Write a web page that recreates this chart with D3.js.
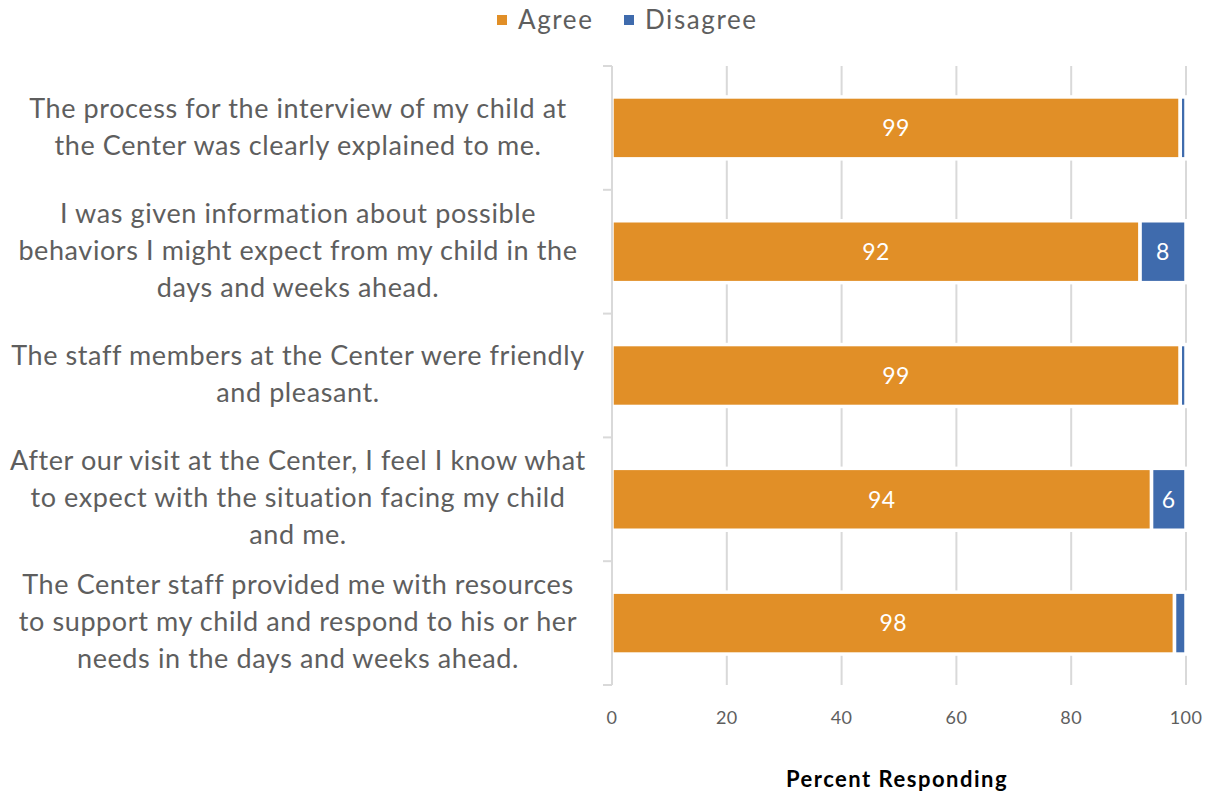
<!DOCTYPE html>
<html>
<head>
<meta charset="utf-8">
<script src="https://cdn.jsdelivr.net/npm/d3@7"></script>
<style>
  html, body { margin: 0; padding: 0; background: #fff; }
  svg { display: block; }
  text { font-family: Lato, "Noto Sans", sans-serif; }
</style>
</head>
<body>
<svg id="chart" width="1212" height="796"></svg>
<script>
// Survey statements (wrapped as displayed)
const categories = [
  ["The process for the interview of my child at", "the Center was clearly explained to me."],
  ["I was given information about possible", "behaviors I might expect from my child in the", "days and weeks ahead."],
  ["The staff members at the Center were friendly", "and pleasant."],
  ["After our visit at the Center, I feel I know what", "to expect with the situation facing my child", "and me."],
  ["The Center staff provided me with resources", "to support my child and respond to his or her", "needs in the days and weeks ahead."]
];
const agree = [99, 92, 99, 94, 98];
const disagree = [1, 8, 1, 6, 2];
const seriesNames = ["Agree", "Disagree"];
const xTicks = [0, 20, 40, 60, 80, 100];
const xTitle = "Percent Responding";

const colors = { Agree: "#E18F27", Disagree: "#3F6BAD" };
const grid = "#D9D9D9";
const textGray = "#5E5E5E";

const svg = d3.select("#chart");
const plotLeft = 612, plotRight = 1186, plotTop = 66, plotBottom = 685;

const x = d3.scaleLinear().domain([0, 100]).range([plotLeft, plotRight]);
const ids = categories.map((_, i) => i);
const y = d3.scaleBand().domain(ids).range([plotTop, plotBottom]).paddingInner(0.5).paddingOuter(0.25);

// vertical gridlines
svg.append("g").selectAll("line").data(xTicks.filter(t => t > 0)).join("line")
  .attr("x1", d => x(d)).attr("x2", d => x(d))
  .attr("y1", plotTop).attr("y2", plotBottom)
  .attr("stroke", grid).attr("stroke-width", 2);

// stacked bars
const rows = ids.map(i => ({ i, Agree: agree[i], Disagree: disagree[i] }));
const stack = d3.stack().keys(seriesNames)(rows);

const layers = svg.append("g").selectAll("g").data(stack).join("g")
  .attr("fill", d => colors[d.key]);
layers.selectAll("rect").data(d => d).join("rect")
  .attr("x", d => x(d[0]))
  .attr("width", d => x(d[1]) - x(d[0]))
  .attr("y", d => y(d.data.i))
  .attr("height", y.bandwidth())
  .attr("stroke", "#fff").attr("stroke-width", 3.5);

// value labels
layers.selectAll("text").data(d => d.filter(v => v[1] - v[0] >= 3)).join("text")
  .attr("x", d => (x(d[0]) + x(d[1])) / 2)
  .attr("y", d => y(d.data.i) + y.bandwidth() / 2)
  .attr("dy", "0.36em")
  .attr("text-anchor", "middle")
  .attr("fill", "#fff")
  .attr("font-size", 23)
  .attr("letter-spacing", 0.5)
  .text(d => d[1] - d[0]);

// vertical axis line with category boundary ticks
const axisG = svg.append("g");
axisG.append("line").attr("x1", plotLeft).attr("x2", plotLeft).attr("y1", plotTop).attr("y2", plotBottom)
  .attr("stroke", grid).attr("stroke-width", 2);
const bounds = ids.map(i => y(i) - y.step() * y.paddingInner() / 2).concat([plotBottom]);
bounds[0] = plotTop;
axisG.selectAll("line.tick").data(bounds).join("line").attr("class", "tick")
  .attr("x1", plotLeft - 9).attr("x2", plotLeft)
  .attr("y1", d => d).attr("y2", d => d)
  .attr("stroke", grid).attr("stroke-width", 2);

// category labels
const lineH = 37;
const catG = svg.append("g");
categories.forEach((lines, i) => {
  const cy = y(i) + y.bandwidth() / 2;
  const t = catG.append("text")
    .attr("text-anchor", "middle")
    .attr("fill", textGray)
    .attr("font-size", 27)
    .attr("letter-spacing", 0.6);
  lines.forEach((ln, k) => {
    t.append("tspan")
      .attr("x", 298)
      .attr("y", cy + (k - (lines.length - 1) / 2) * lineH)
      .attr("dy", "0.3em")
      .text(ln);
  });
});

// x tick labels
svg.append("g").selectAll("text").data(xTicks).join("text")
  .attr("x", d => x(d)).attr("y", 718).attr("dy", "0.35em")
  .attr("text-anchor", "middle").attr("fill", textGray).attr("font-size", 18)
  .attr("letter-spacing", 0.4)
  .text(d => d);

// x axis title
svg.append("text").attr("x", 897).attr("y", 779).attr("dy", "0.35em")
  .attr("text-anchor", "middle").attr("fill", "#000")
  .attr("font-size", 22).attr("font-weight", 700).attr("letter-spacing", 1.5)
  .text(xTitle);

// legend
const legendItems = [
  { key: "Agree", sx: 497, tx: 518 },
  { key: "Disagree", sx: 624, tx: 645 }
];
const lg = svg.append("g");
legendItems.forEach(it => {
  lg.append("rect").attr("x", it.sx).attr("y", 15).attr("width", 10).attr("height", 10)
    .attr("fill", colors[it.key]);
  lg.append("text").attr("x", it.tx).attr("y", 20).attr("dy", "0.35em")
    .attr("fill", textGray).attr("font-size", 26).attr("letter-spacing", 1.6)
    .text(it.key);
});
</script>
</body>
</html>
